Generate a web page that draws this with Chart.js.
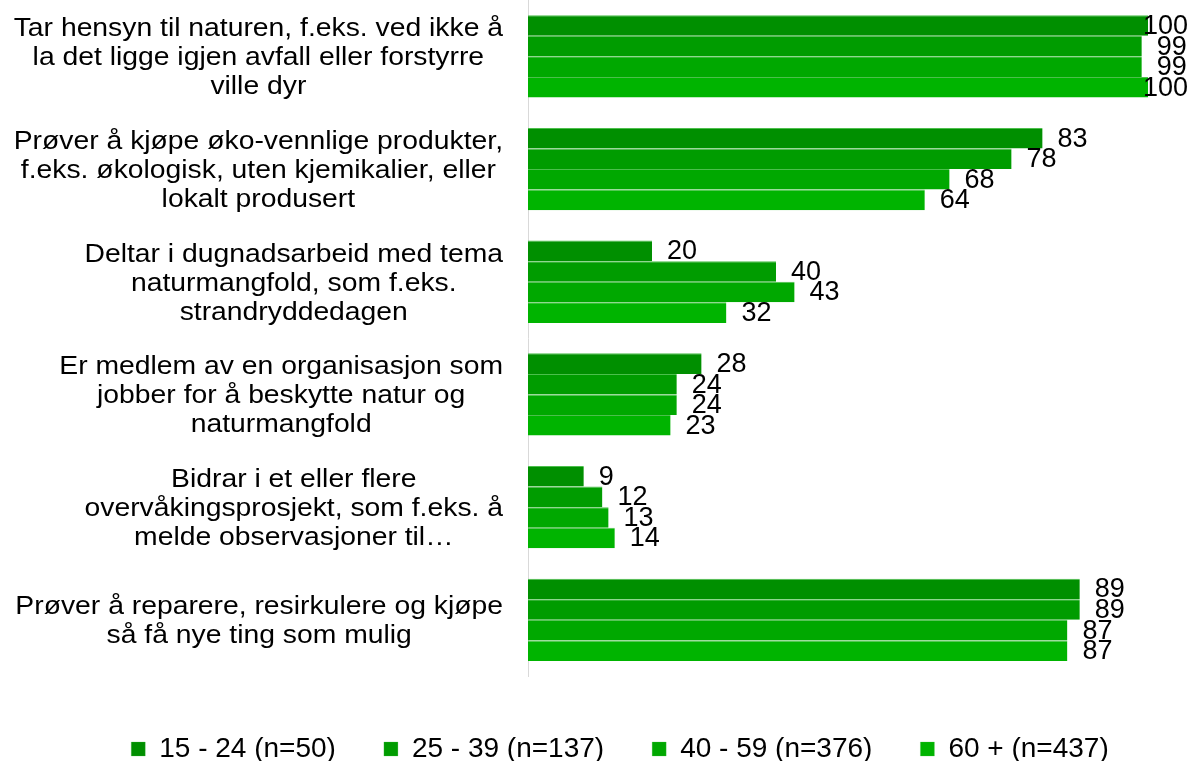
<!DOCTYPE html>
<html>
<head>
<meta charset="utf-8">
<script src="https://cdn.jsdelivr.net/npm/chart.js@4/dist/chart.umd.min.js"></script>
<style>
  html, body { margin: 0; padding: 0; background: #fff; }
  #wrap { width: 1188px; height: 761px; }
</style>
</head>
<body>
<div id="wrap"><canvas id="myChart"></canvas></div>
<script>
const categories = [
    ['Tar hensyn til naturen, f.eks. ved ikke å', 'la det ligge igjen avfall eller forstyrre', 'ville dyr'],
    ['Prøver å kjøpe øko-vennlige produkter,', 'f.eks. økologisk, uten kjemikalier, eller', 'lokalt produsert'],
    ['Deltar i dugnadsarbeid med tema', 'naturmangfold, som f.eks.', 'strandryddedagen'],
    ['Er medlem av en organisasjon som', 'jobber for å beskytte natur og', 'naturmangfold'],
    ['Bidrar i et eller flere', 'overvåkingsprosjekt, som f.eks. å', 'melde observasjoner til…'],
    ['Prøver å reparere, resirkulere og kjøpe', 'så få nye ting som mulig']
];
const seriesNames = ['15 - 24 (n=50)', '25 - 39 (n=137)', '40 - 59 (n=376)', '60 + (n=437)'];
const age15to24 = [100, 83, 20, 28, 9, 89];
const age25to39 = [99, 78, 40, 24, 12, 89];
const age40to59 = [99, 68, 43, 24, 13, 87];
const age60plus = [100, 64, 32, 23, 14, 87];
const colors = ['#008f00', '#009c00', '#00a800', '#00b400'];

const FONT = '"Liberation Sans", Arial, sans-serif';

// category labels: block right-aligned, lines centered inside the block
const catLabels = {
    id: 'catLabels',
    afterDraw(chart) {
        const ctx = chart.ctx;
        const y = chart.scales.y;
        const sx = 1.11;
        ctx.save();
        ctx.font = '25.5px ' + FONT;
        ctx.fillStyle = '#000';
        ctx.textAlign = 'center';
        ctx.textBaseline = 'middle';
        ctx.translate(503, 0);
        ctx.scale(sx, 1);
        categories.forEach((lines, i) => {
            const widest = Math.max(...lines.map(l => ctx.measureText(l).width));
            const cy = y.getPixelForTick(i) + 2;
            lines.forEach((l, j) => {
                ctx.fillText(l, -widest / 2, cy + (j - (lines.length - 1) / 2) * 29);
            });
        });
        ctx.restore();
    }
};

// value labels at the end of each bar
const valueLabels = {
    id: 'valueLabels',
    afterDatasetsDraw(chart) {
        const ctx = chart.ctx;
        ctx.save();
        ctx.font = '27px ' + FONT;
        ctx.fillStyle = '#000';
        ctx.textBaseline = 'middle';
        chart.data.datasets.forEach((ds, di) => {
            chart.getDatasetMeta(di).data.forEach((bar, i) => {
                const txt = String(ds.data[i]);
                const w = ctx.measureText(txt).width;
                let x = bar.x + 15;
                if (x + w > chart.width) x = chart.width - w;
                ctx.fillText(txt, x, bar.y + 1);
            });
        });
        ctx.restore();
    }
};

// the original legend sits a bit right of centre
const legendShift = {
    id: 'legendShift',
    afterLayout(chart) {
        chart.legend.left += 46;
        chart.legend.right += 46;
    }
};

const ctx = document.getElementById('myChart').getContext('2d');
const chart = new Chart(ctx, {
    type: 'bar',
    data: {
        labels: categories,
        datasets: [age15to24, age25to39, age40to59, age60plus].map((d, i) => ({
            label: seriesNames[i],
            data: d,
            backgroundColor: colors[i],
            borderColor: '#4cbf4c',
            borderWidth: { top: 1, right: 0, bottom: 0, left: 0 },
            borderSkipped: false,
            barPercentage: 1,
            categoryPercentage: 0.73
        }))
    },
    options: {
        indexAxis: 'y',
        responsive: true,
        maintainAspectRatio: false,
        animation: false,
        layout: { padding: { top: 0, right: 40, bottom: -12, left: 0 } },
        scales: {
            x: { display: false, min: 0, max: 100 },
            y: {
                grid: { display: false, drawTicks: false },
                border: { display: true, color: '#d9d9d9', width: 1 },
                ticks: { display: false },
                afterFit(scale) { scale.width = 528; }
            }
        },
        plugins: {
            legend: {
                position: 'bottom',
                title: { display: true, text: ' ', padding: 0, font: { size: 9 } },
                labels: {
                    boxWidth: 14,
                    boxHeight: 14,
                    padding: 48,
                    color: '#000',
                    font: { size: 28, family: FONT }
                }
            },
            tooltip: { enabled: false }
        }
    },
    plugins: [catLabels, valueLabels, legendShift]
});
</script>
</body>
</html>
